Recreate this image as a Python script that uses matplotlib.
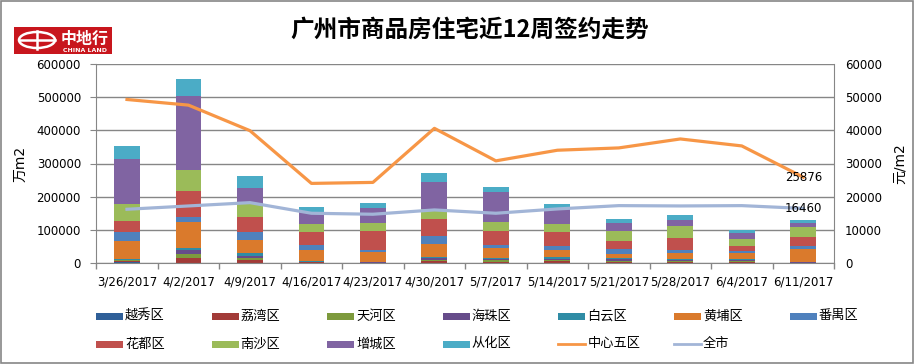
import matplotlib
matplotlib.use('Agg')
import matplotlib.pyplot as plt
import numpy as np
from matplotlib.patches import Rectangle, Ellipse
from matplotlib.lines import Line2D

plt.rcParams['font.family'] = ['DejaVu Sans', 'Noto Sans CJK SC']

# ---- data ----
weeks = ['3/26/2017', '4/2/2017', '4/9/2017', '4/16/2017', '4/23/2017', '4/30/2017',
         '5/7/2017', '5/14/2017', '5/21/2017', '5/28/2017', '6/4/2017', '6/11/2017']
districts = ['越秀区', '荔湾区', '天河区', '海珠区', '白云区', '黄埔区',
             '番禺区', '花都区', '南沙区', '增城区', '从化区']

yuexiu = [2000, 1000, 1000, 1000, 500, 1000, 1000, 1000, 1000, 1000, 1000, 500]
liwan = [3000, 13000, 7000, 1000, 500, 4000, 3000, 6000, 3000, 3000, 3000, 500]
tianhe = [4000, 14000, 8000, 1000, 500, 5000, 4000, 3000, 2000, 2000, 3000, 500]
haizhu = [1000, 10000, 6000, 1000, 500, 4000, 4000, 3000, 5000, 3000, 2000, 500]
baiyun = [2000, 8000, 8000, 1000, 1000, 4000, 4000, 4000, 3000, 2000, 2000, 1000]
huangpu = [54000, 77000, 40000, 35000, 30000, 40000, 28000, 21000, 14000, 18000, 18000, 39000]
panyu = [27000, 15000, 22000, 15000, 6000, 22000, 10000, 13000, 15000, 10000, 7000, 9000]
huadu = [34000, 80000, 48000, 39000, 58000, 52000, 43000, 41000, 24000, 37000, 16000, 27000]
nansha = [51000, 62000, 38000, 24000, 24000, 30000, 26000, 27000, 30000, 35000, 20000, 30000]
zengcheng = [136000, 223000, 48000, 36000, 44000, 83000, 90000, 45000, 24000, 18000, 18000, 12000]
conghua = [39000, 51000, 36000, 15000, 15000, 26000, 16000, 15000, 12000, 15000, 9000, 9000]

core5 = [49300, 47600, 39900, 24000, 24300, 40600, 30800, 34000, 34700, 37400, 35300, 25876]
city = [16200, 17200, 18200, 15000, 14700, 16000, 15000, 16300, 17300, 17200, 17300, 16460]

series = [yuexiu, liwan, tianhe, haizhu, baiyun, huangpu, panyu, huadu, nansha, zengcheng, conghua]
bar_colors = ['#2F5F98', '#A23B38', '#7D9A3D', '#664C8A', '#2F8CA5', '#DA7A2C',
              '#4F81BD', '#C0504D', '#9BBB59', '#8064A2', '#4BACC6']
line_names = ['中心五区', '全市']
line_colors = ['#F79646', '#A2B5D7']

W, H = 915, 364
grid_c = '#868686'

fig = plt.figure(figsize=(W / 100, H / 100), dpi=100)

# plot area (pixel box -> fraction)
left, right, top, bottom = 96.25, 834, 64, 263
ax = fig.add_axes([left / W, 1 - bottom / H, (right - left) / W, (bottom - top) / H])

x = np.arange(len(weeks))
base = np.zeros(len(weeks))
for vals, col in zip(series, bar_colors):
    ax.bar(x, vals, 0.42, bottom=base, color=col, linewidth=0, zorder=2)
    base += np.array(vals)

ax.set_xlim(-0.5, len(weeks) - 0.5)
ax.set_ylim(0, 600000)
ax.set_yticks(np.arange(0, 600001, 100000))
ax.yaxis.grid(True, color=grid_c, linewidth=1)
ax.set_axisbelow(True)
ax.set_xticks(x)
ax.set_xticklabels(weeks, fontsize=8.5)
ax.set_xticks(np.arange(-0.5, len(weeks)), minor=True)
ax.tick_params(axis='x', which='major', length=0, pad=9)
ax.tick_params(axis='x', which='minor', length=4, color=grid_c, width=1)
ax.tick_params(axis='y', length=4, color=grid_c, labelsize=8.5, pad=7)
for s in ['top', 'right']:
    ax.spines[s].set_visible(False)
for s in ['left', 'bottom']:
    ax.spines[s].set_color(grid_c)
ax.set_ylabel('万m2', fontsize=10)
ax.yaxis.set_label_coords(-(left - 27) / (right - left), 0.5)

ax2 = ax.twinx()
ax2.plot(x, core5, color=line_colors[0], linewidth=2.3, zorder=3)
ax2.plot(x, city, color=line_colors[1], linewidth=2.3, zorder=3)
ax2.set_ylim(0, 60000)
ax2.set_yticks(np.arange(0, 60001, 10000))
ax2.tick_params(axis='y', length=0, labelsize=8.5, pad=8)
for s in ['top', 'left', 'bottom']:
    ax2.spines[s].set_visible(False)
ax2.spines['right'].set_color(grid_c)
ax2.set_ylabel('元/m2', fontsize=10)
ax2.yaxis.set_label_coords(1 + (893 - right) / (right - left), 0.5)

# last-point labels
ax2.text(x[-1], core5[-1], f'{core5[-1]}', ha='center', va='center', fontsize=8.5, zorder=5)
ax2.text(x[-1], city[-1], f'{city[-1]}', ha='center', va='center', fontsize=8.5, zorder=5)

# title
fig.text(470 / W, 1 - 30 / H, '广州市商品房住宅近12周签约走势', ha='center', va='center',
         fontsize=17, fontweight='bold', family=['Noto Sans CJK SC'])

# legend drawn by hand on a fixed grid, like the spreadsheet one
def fx(px):
    return px / W

def fy(py):
    return 1 - py / H

names = districts + line_names
for i, name in enumerate(names):
    col, row = i % 7, i // 7
    x0 = 96 + col * 115.6
    y0 = 316 + row * 28
    if i < len(districts):
        fig.add_artist(Rectangle((fx(x0), fy(y0 + 3.5)), 27 / W, 7 / H,
                                 transform=fig.transFigure, color=bar_colors[i], linewidth=0))
    else:
        k = i - len(districts)
        fig.add_artist(Line2D([fx(x0), fx(x0 + 27)], [fy(y0), fy(y0)],
                              transform=fig.transFigure, color=line_colors[k], linewidth=2))
    fig.text(fx(x0 + 29), fy(y0), name, ha='left', va='center', fontsize=9.5,
             family=['Noto Sans CJK SC'])

# logo
fig.add_artist(Rectangle((fx(14), fy(54)), 98 / W, 27 / H, transform=fig.transFigure,
                         color='#C8161D', linewidth=0))
fig.add_artist(Ellipse((fx(37), fy(40)), 36 / W, 16 / H, transform=fig.transFigure,
                       fill=False, edgecolor='white', linewidth=1.8))
fig.add_artist(Line2D([fx(20), fx(55)], [fy(40), fy(40)], transform=fig.transFigure,
                      color='white', linewidth=1.8))
fig.add_artist(Line2D([fx(37), fx(37)], [fy(31), fy(49)], transform=fig.transFigure,
                      color='white', linewidth=1.8))
fig.text(fx(85), fy(39), '中地行', ha='center', va='center', fontsize=11.5, color='white',
         fontweight='bold', family=['Noto Sans CJK SC'])
fig.text(fx(85), fy(50.5), 'CHINA LAND', ha='center', va='center', fontsize=4.5,
         color='white', fontweight='bold')

# outer frame
fig.add_artist(Rectangle((0.001, 0.002), 0.997, 0.995, transform=fig.transFigure,
                         fill=False, edgecolor=grid_c, linewidth=1.2))

fig.savefig('out.png', dpi=100)
